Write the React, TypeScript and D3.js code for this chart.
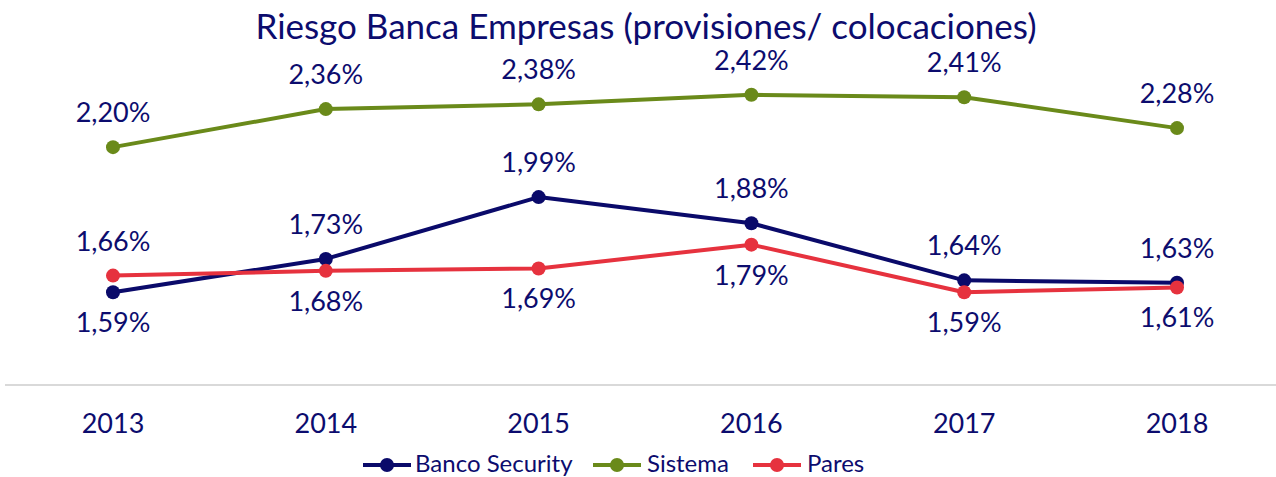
import * as d3 from 'd3';
import React from 'react';

const years = ['2013', '2014', '2015', '2016', '2017', '2018'];
const bancoSecurity = [1.59, 1.73, 1.99, 1.88, 1.64, 1.63];
const sistema = [2.2, 2.36, 2.38, 2.42, 2.41, 2.28];
const pares = [1.66, 1.68, 1.69, 1.79, 1.59, 1.61];
// where each series puts its value labels
const bancoLabelSide = ['below', 'above', 'above', 'above', 'above', 'above'];
const sistemaLabelSide = ['above', 'above', 'above', 'above', 'above', 'above'];
const paresLabelSide = ['above', 'below', 'below', 'below', 'below', 'below'];

const W = 1276;
const H = 477;
const FONT = 'Lato, "Open Sans", sans-serif';
const TEXT = '#0c0c6e';

const series = [
  { name: 'Banco Security', values: bancoSecurity, sides: bancoLabelSide, color: '#0a0a6a' },
  { name: 'Sistema', values: sistema, sides: sistemaLabelSide, color: '#6a8a1a' },
  { name: 'Pares', values: pares, sides: paresLabelSide, color: '#e6323e' },
];

const fmt = (v: number) => v.toFixed(2).replace('.', ',') + '%';

const App = () => {
  const x = d3.scalePoint<string>().domain(years).range([113, 1177]);
  const y = d3.scaleLinear().domain([1.2, 2.6]).range([385, 52]);
  const line = d3.line<number>()
    .x((_, i) => x(years[i]) as number)
    .y((d) => y(d));

  // legend layout
  const legendItems = [
    { x: 363, textX: 415 },
    { x: 593, textX: 647 },
    { x: 753, textX: 807 },
  ];

  return (
    <svg width={W} height={H} style={{ position: 'absolute', left: 0, top: 0, background: '#fff' }} fontFamily={FONT}>
      <text x={646} y={39} textAnchor="middle" fontSize={35} fill={TEXT}>
        Riesgo Banca Empresas (provisiones/ colocaciones)
      </text>

      <line x1={5} x2={W} y1={y(1.2)} y2={y(1.2)} stroke="#d9d9d9" strokeWidth={2} />
      {years.map((yr) => (
        <text key={yr} x={x(yr)} y={433} textAnchor="middle" fontSize={27} fill={TEXT}>{yr}</text>
      ))}

      {series.map((s) => (
        <g key={s.name}>
          <path d={line(s.values) || ''} fill="none" stroke={s.color} strokeWidth={4} strokeLinejoin="round" />
          {s.values.map((v, i) => (
            <circle key={i} cx={x(years[i])} cy={y(v)} r={7} fill={s.color} />
          ))}
        </g>
      ))}

      {series.map((s) => (
        <g key={s.name + '-labels'}>
          {s.values.map((v, i) => (
            <text
              key={i}
              x={x(years[i])}
              y={y(v) + (s.sides[i] === 'above' ? -25 : 40)}
              textAnchor="middle"
              fontSize={27}
              fill={TEXT}
            >
              {fmt(v)}
            </text>
          ))}
        </g>
      ))}

      {series.map((s, i) => (
        <g key={s.name + '-legend'}>
          <line x1={legendItems[i].x} x2={legendItems[i].x + 48} y1={465} y2={465} stroke={s.color} strokeWidth={4} />
          <circle cx={legendItems[i].x + 24} cy={465} r={7} fill={s.color} />
          <text x={legendItems[i].textX} y={472} fontSize={24} fill={TEXT}>{s.name}</text>
        </g>
      ))}
    </svg>
  );
};

export default App;
